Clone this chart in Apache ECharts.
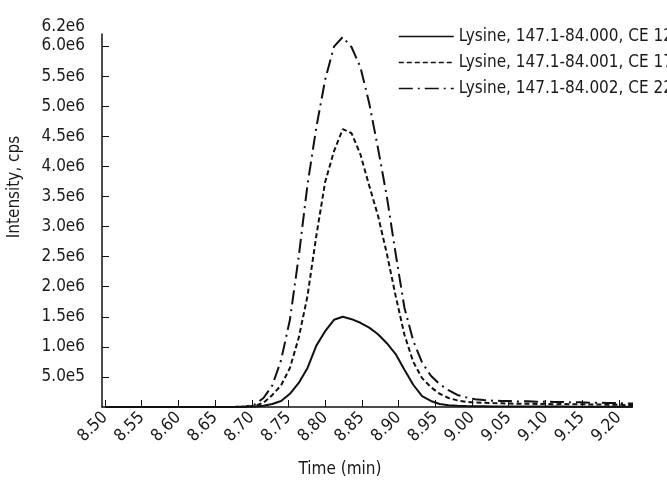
<!DOCTYPE html>
<html>
<head>
<meta charset="utf-8">
<script src="https://cdn.jsdelivr.net/npm/echarts@6/dist/echarts.min.js"></script>
<style>
html,body{margin:0;padding:0;background:#fff;}
#chart{width:667px;height:487px;}
</style>
</head>
<body>
<div id="chart"></div>
<script>
// Time (min)
const times = [8.500, 8.512, 8.524, 8.536, 8.548, 8.560, 8.572, 8.584, 8.596, 8.608,
  8.620, 8.632, 8.644, 8.656, 8.668, 8.680, 8.692, 8.704, 8.716, 8.728,
  8.740, 8.752, 8.764, 8.776, 8.788, 8.800, 8.812, 8.824, 8.836, 8.848,
  8.860, 8.872, 8.884, 8.896, 8.908, 8.920, 8.932, 8.944, 8.956, 8.968,
  8.980, 8.992, 9.004, 9.016, 9.028, 9.040, 9.052, 9.064, 9.076, 9.088,
  9.100, 9.112, 9.124, 9.136, 9.148, 9.160, 9.172, 9.184, 9.196, 9.208, 9.220];

// Intensity, in units of 1e6 cps
const ce12 = [0, 0, 0, 0, 0, 0, 0, 0, 0, 0,
  0, 0, 0, 0, 0, 0.001, 0.003, 0.008, 0.02, 0.05,
  0.10, 0.22, 0.40, 0.65, 1.02, 1.26, 1.45, 1.50, 1.46, 1.40,
  1.32, 1.21, 1.06, 0.88, 0.62, 0.37, 0.18, 0.10, 0.05, 0.03,
  0.02, 0.015, 0.012, 0.011, 0.010, 0.010, 0.009, 0.009, 0.008, 0.008,
  0.007, 0.007, 0.007, 0.006, 0.006, 0.006, 0.005, 0.005, 0.005, 0.005, 0.005];

const ce17 = [0, 0, 0, 0, 0, 0, 0, 0, 0, 0,
  0, 0, 0, 0, 0, 0.002, 0.006, 0.02, 0.07, 0.20,
  0.36, 0.65, 1.15, 1.85, 2.85, 3.74, 4.25, 4.62, 4.55, 4.20,
  3.68, 3.18, 2.55, 1.85, 1.20, 0.75, 0.48, 0.33, 0.22, 0.15,
  0.11, 0.085, 0.075, 0.07, 0.065, 0.062, 0.058, 0.052, 0.057, 0.050,
  0.054, 0.047, 0.050, 0.044, 0.047, 0.041, 0.043, 0.038, 0.040, 0.035, 0.033];

const ce22 = [0, 0, 0, 0, 0, 0, 0, 0, 0, 0,
  0, 0, 0, 0, 0, 0.003, 0.01, 0.04, 0.15, 0.36,
  0.78, 1.45, 2.50, 3.70, 4.65, 5.44, 5.99, 6.15, 5.98, 5.65,
  5.05, 4.30, 3.50, 2.55, 1.65, 1.10, 0.74, 0.52, 0.38, 0.28,
  0.20, 0.16, 0.13, 0.115, 0.105, 0.10, 0.098, 0.092, 0.095, 0.087,
  0.090, 0.082, 0.085, 0.076, 0.079, 0.070, 0.072, 0.065, 0.067, 0.060, 0.056];

const seriesNames = ['Lysine, 147.1-84.000, CE 12', 'Lysine, 147.1-84.001, CE 17', 'Lysine, 147.1-84.002, CE 22'];

const xTickValues = [8.50, 8.55, 8.60, 8.65, 8.70, 8.75, 8.80, 8.85, 8.90, 8.95, 9.00, 9.05, 9.10, 9.15, 9.20];
const yTickValues = [0.5, 1.0, 1.5, 2.0, 2.5, 3.0, 3.5, 4.0, 4.5, 5.0, 5.5, 6.0];
const yLabelValues = [0.5, 1.0, 1.5, 2.0, 2.5, 3.0, 3.5, 4.0, 4.5, 5.0, 5.5, 6.0, 6.2];

const FONT = '"Liberation Sans Narrow", "DejaVu Sans Condensed", "Arial Narrow", sans-serif';

function pairs(vals) { return times.map((t, i) => [t, vals[i]]); }

const chart = echarts.init(document.getElementById('chart'), null, {renderer: 'canvas'});
const lineBase = {type: 'line', symbol: 'none', showSymbol: false, smooth: false, silent: true};

chart.setOption({
  animation: false,
  backgroundColor: '#fff',
  grid: {left: 102, right: 35, top: 34, bottom: 80},
  legend: {
    orient: 'vertical', left: 398, top: 28, padding: 0,
    itemWidth: 55, itemHeight: 18, itemGap: 9,
    itemStyle: {color: 'transparent', borderColor: 'transparent', borderWidth: 0, opacity: 0},
    lineStyle: {width: 1.5},
    textStyle: {fontFamily: FONT, fontSize: 17, color: '#1a1a1a'},
    data: seriesNames
  },
  xAxis: {
    type: 'value', min: 8.496, max: 9.218,
    axisLine: {show: true, lineStyle: {color: '#111', width: 1.5}},
    axisTick: {show: true, inside: true, length: 7, customValues: xTickValues, lineStyle: {color: '#111', width: 1}},
    axisLabel: {
      customValues: xTickValues, rotate: 45, margin: 8,
      fontFamily: FONT, fontSize: 17, color: '#1a1a1a',
      formatter: v => v.toFixed(2)
    },
    splitLine: {show: false}
  },
  yAxis: {
    type: 'value', min: 0, max: 6.2,
    axisLine: {show: true, lineStyle: {color: '#111', width: 1.5}},
    axisTick: {show: true, inside: true, length: 7, customValues: yTickValues, lineStyle: {color: '#111', width: 1}},
    axisLabel: {
      customValues: yLabelValues, margin: 17,
      fontFamily: FONT, fontSize: 17, color: '#1a1a1a',
      formatter: v => {
        if (Math.abs(v - 6.2) < 1e-6) return '{t|6.2e6}';
        if (v < 1) return (v * 10).toFixed(1) + 'e5';
        return v.toFixed(1) + 'e6';
      },
      rich: {t: {fontFamily: FONT, fontSize: 17, color: '#1a1a1a', padding: [0, 0, 14, 0]}}
    },
    splitLine: {show: false}
  },
  graphic: [
    {type: 'text', x: 15, y: 187, rotation: Math.PI / 2,
     style: {text: 'Intensity, cps', font: '17px ' + FONT, fill: '#1a1a1a', textAlign: 'center', textVerticalAlign: 'middle'}},
    {type: 'text', x: 340, y: 470,
     style: {text: 'Time (min)', font: '17px ' + FONT, fill: '#1a1a1a', textAlign: 'center', textVerticalAlign: 'middle'}}
  ],
  series: [
    Object.assign({}, lineBase, {name: seriesNames[0], data: pairs(ce12), z: 3,
      lineStyle: {color: '#111', width: 2, type: 'solid'}, itemStyle: {color: '#111'}}),
    Object.assign({}, lineBase, {name: seriesNames[1], data: pairs(ce17), z: 2,
      lineStyle: {color: '#111', width: 2, type: [5, 3]}, itemStyle: {color: '#111'}}),
    Object.assign({}, lineBase, {name: seriesNames[2], data: pairs(ce22), z: 2,
      lineStyle: {color: '#111', width: 2, type: [14, 5, 2, 5]}, itemStyle: {color: '#111'}})
  ]
});
</script>
</body>
</html>
